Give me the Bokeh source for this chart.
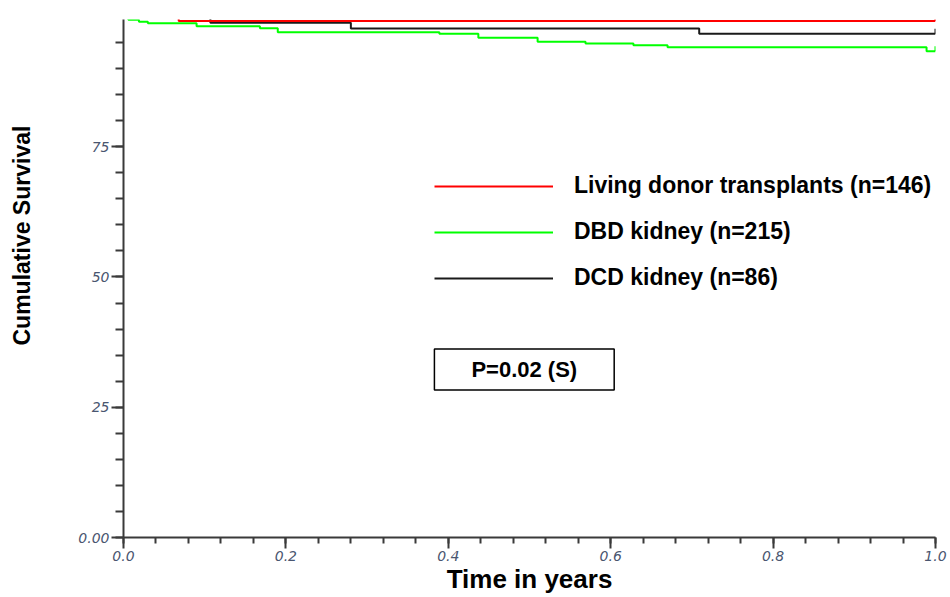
from math import pi
from bokeh.plotting import figure
from bokeh.models import FixedTicker, Legend, LegendItem, Label, Range1d, Title
from bokeh.embed import file_html
from bokeh.resources import INLINE

# ---- data ----
living_t = [0.0, 0.068, 1.0]
living_s = [100.0, 99.15, 99.15]

dbd_t = [0.0, 0.006, 0.019, 0.030, 0.090, 0.168, 0.190, 0.389, 0.437, 0.510,
         0.569, 0.628, 0.670, 0.989, 1.0]
dbd_s = [100.0, 99.35, 98.98, 98.71, 98.14, 97.75, 96.99, 96.68, 95.91, 95.14,
         94.82, 94.49, 94.11, 93.34, 93.34]

dcd_t = [0.0, 0.107, 0.280, 0.709, 1.0]
dcd_s = [100.0, 98.79, 97.70, 96.68, 96.68]

series_names = ["Living donor transplants (n=146)", "DBD kidney (n=215)", "DCD kidney (n=86)"]
series_colors = ["#ff0000", "#00ff00", "#1a1a1a"]

x_ticks = [0.0, 0.2, 0.4, 0.6, 0.8, 1.0]
x_minor = [round(i * 0.04, 2) for i in range(26)]
y_ticks = [0, 25, 50, 75, 100]
y_tick_labels = ["0.00", "25", "50", "75", "100"]
y_minor = list(range(0, 101, 5))

x_title = "Time in years"
y_title = "Cumulative Survival"
p_text = "P=0.02 (S)"

# ---- figure ----
p = figure(width=950, height=597, x_range=Range1d(0, 1), y_range=Range1d(0, 99.42),
           output_backend="svg", toolbar_location=None,
           min_border_left=123, min_border_right=15, min_border_top=19, min_border_bottom=60)
p.outline_line_color = None
p.xgrid.visible = False
p.ygrid.visible = False
p.background_fill_color = "white"
p.border_fill_color = "white"

axis_color = "#3a3a3a"
tick_label_color = "#4a5670"

xa = p.xaxis[0]
xa.ticker = FixedTicker(ticks=x_ticks, minor_ticks=x_minor)
xa.major_label_overrides = {t: f"{t:.1f}" for t in x_ticks}
xa.axis_line_color = axis_color
xa.axis_line_width = 2
xa.major_tick_line_color = axis_color
xa.major_tick_line_width = 2
xa.minor_tick_line_color = axis_color
xa.minor_tick_line_width = 2
xa.major_tick_in = 0
xa.major_tick_out = 11
xa.minor_tick_in = 0
xa.minor_tick_out = 6
xa.major_label_standoff = 2
xa.major_label_text_font = "DejaVu Sans"
xa.major_label_text_font_style = "italic"
xa.major_label_text_font_size = "14px"
xa.major_label_text_color = tick_label_color
xa.axis_label = x_title
xa.axis_label_standoff = 0
xa.axis_label_text_font = "Liberation Sans"
xa.axis_label_text_font_style = "bold"
xa.axis_label_text_font_size = "26px"
xa.axis_label_text_color = "black"

ya = p.yaxis[0]
ya.ticker = FixedTicker(ticks=y_ticks, minor_ticks=y_minor)
ya.major_label_overrides = dict(zip(y_ticks, y_tick_labels))
ya.axis_line_color = axis_color
ya.axis_line_width = 2
ya.major_tick_line_color = axis_color
ya.major_tick_line_width = 2
ya.minor_tick_line_color = axis_color
ya.minor_tick_line_width = 2
ya.major_tick_in = 0
ya.major_tick_out = 12
ya.minor_tick_in = 0
ya.minor_tick_out = 8
ya.major_label_standoff = 2
ya.major_label_text_font = "DejaVu Sans"
ya.major_label_text_font_style = "italic"
ya.major_label_text_font_size = "14px"
ya.major_label_text_color = tick_label_color
# blank axis label only used as spacing so the title sits further left
ya.axis_label = " "
ya.axis_label_standoff = 22
ya.axis_label_text_font_size = "10px"

# ---- curves ----
series = [(living_t, living_s), (dbd_t, dbd_s), (dcd_t, dcd_s)]
renderers = {}
for i in [1, 2, 0]:
    t, s = series[i]
    renderers[i] = p.step(t, s, mode="after", line_width=2, color=series_colors[i])
    p.ray(x=[t[-1]], y=[s[-1]], length=5, angle=pi / 2, length_units="screen",
          line_width=2, color=series_colors[i])

legend_items = [LegendItem(label=series_names[i], renderers=[renderers[i]]) for i in range(3)]
legend = Legend(items=legend_items, location=(311, 246), orientation="vertical",
                glyph_width=119, glyph_height=26, label_height=26, label_standoff=21,
                spacing=19, padding=0, margin=0, border_line_color=None,
                background_fill_alpha=0, label_text_font="Liberation Sans",
                label_text_font_style="bold", label_text_font_size="23px",
                label_text_color="black")
p.add_layout(legend)

# y title
yt = Title(text=y_title, align="left", offset=192, text_font="Liberation Sans",
           text_font_style="bold", text_font_size="23px", text_color="black")
p.add_layout(yt, "left")

# p-value box
p.add_layout(Label(x=400.8, y=168, x_units="screen", y_units="screen", text=p_text,
                   text_align="center", text_baseline="middle",
                   text_font="Liberation Sans", text_font_style="bold",
                   text_font_size="22px", text_color="black",
                   border_line_color="black", border_line_width=1.5,
                   background_fill_color="white",
                   padding=dict(left=37, right=37, top=8, bottom=8)))

open("out.html", "w").write(file_html(p, INLINE))
